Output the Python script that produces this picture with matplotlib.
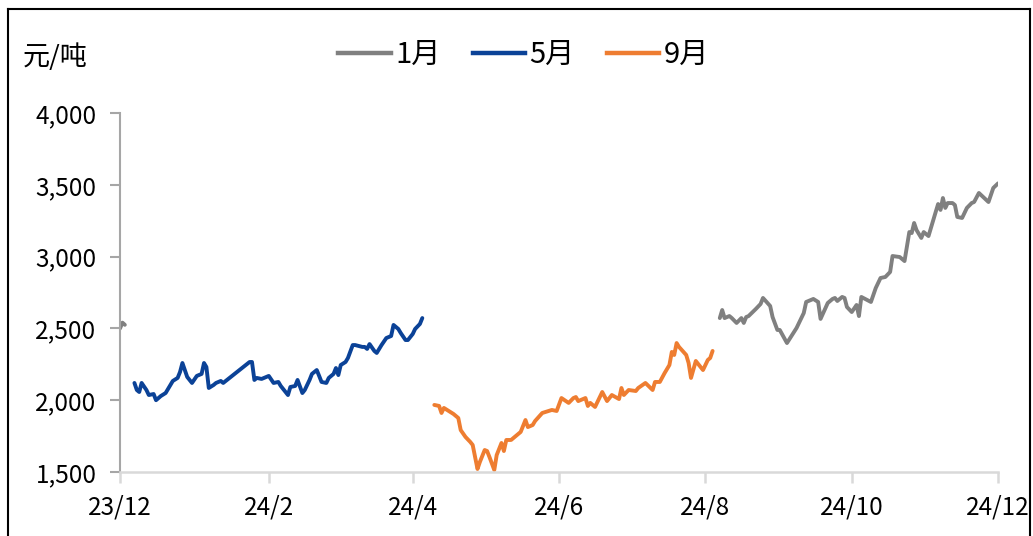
import matplotlib
matplotlib.use("Agg")
import matplotlib.pyplot as plt
import pandas as pd
from matplotlib.lines import Line2D

plt.rcParams['font.family'] = ['Noto Sans CJK SC', 'DejaVu Sans']

# ---- data ----
jan_dates = ["2023-12-01", "2023-12-02", "2023-12-03",
             "2024-08-07", "2024-08-08", "2024-08-09", "2024-08-11", "2024-08-12", "2024-08-14",
             "2024-08-16", "2024-08-17", "2024-08-18", "2024-08-19", "2024-08-22", "2024-08-24",
             "2024-08-25", "2024-08-28", "2024-08-29", "2024-08-31", "2024-09-01", "2024-09-04",
             "2024-09-08", "2024-09-11", "2024-09-12", "2024-09-15", "2024-09-17", "2024-09-18",
             "2024-09-21", "2024-09-23", "2024-09-24", "2024-09-25", "2024-09-27", "2024-09-28",
             "2024-09-29", "2024-10-01", "2024-10-03", "2024-10-04", "2024-10-05", "2024-10-09",
             "2024-10-11", "2024-10-13", "2024-10-15", "2024-10-17", "2024-10-18", "2024-10-21",
             "2024-10-23", "2024-10-25", "2024-10-26", "2024-10-27", "2024-10-28", "2024-10-30",
             "2024-10-31", "2024-11-02", "2024-11-05", "2024-11-06", "2024-11-07", "2024-11-08",
             "2024-11-09", "2024-11-10", "2024-11-12", "2024-11-13", "2024-11-14", "2024-11-16",
             "2024-11-18", "2024-11-20", "2024-11-21", "2024-11-23", "2024-11-27", "2024-11-29",
             "2024-12-01"]
jan_values = [2500, 2540, 2525,
              2572, 2628, 2572, 2586, 2572, 2538,
              2572, 2538, 2579, 2586, 2635, 2670,
              2712, 2656, 2579, 2489, 2489, 2398,
              2503, 2607, 2684, 2705, 2684, 2566,
              2677, 2705, 2712, 2691, 2719, 2712,
              2649, 2614, 2663, 2586, 2719, 2684,
              2781, 2851, 2858, 2893, 3004, 2997,
              2969, 3171, 3164, 3234, 3185, 3130,
              3171, 3143, 3311, 3366, 3325, 3408,
              3339, 3373, 3373, 3359, 3276, 3269,
              3339, 3373, 3380, 3443, 3380, 3478,
              3510]
jan_gap_after = "2023-12-03"

may_dates = ["2023-12-07", "2023-12-08", "2023-12-09", "2023-12-10", "2023-12-12", "2023-12-13",
             "2023-12-15", "2023-12-16", "2023-12-18", "2023-12-20", "2023-12-22", "2023-12-23",
             "2023-12-25", "2023-12-26", "2023-12-27", "2023-12-29", "2023-12-30", "2023-12-31",
             "2024-01-02", "2024-01-04", "2024-01-05", "2024-01-06", "2024-01-07", "2024-01-09",
             "2024-01-10", "2024-01-12", "2024-01-13", "2024-01-24", "2024-01-25", "2024-01-26",
             "2024-01-27", "2024-01-29", "2024-02-01", "2024-02-03", "2024-02-05", "2024-02-06",
             "2024-02-09", "2024-02-10", "2024-02-12", "2024-02-13", "2024-02-15", "2024-02-16",
             "2024-02-18", "2024-02-19", "2024-02-21", "2024-02-22", "2024-02-23", "2024-02-25",
             "2024-02-26", "2024-02-28", "2024-02-29", "2024-03-01", "2024-03-02", "2024-03-04",
             "2024-03-05", "2024-03-07", "2024-03-08", "2024-03-11", "2024-03-12", "2024-03-13",
             "2024-03-14", "2024-03-16", "2024-03-17", "2024-03-19", "2024-03-21", "2024-03-23",
             "2024-03-24", "2024-03-26", "2024-03-27", "2024-03-29", "2024-03-30", "2024-04-01",
             "2024-04-02", "2024-04-04", "2024-04-05"]
may_values = [2120, 2071, 2057, 2120, 2071, 2036,
              2043, 2000, 2029, 2050, 2106, 2134,
              2155, 2196, 2259, 2162, 2141, 2120,
              2169, 2183, 2259, 2231, 2085, 2106,
              2120, 2134, 2120, 2266, 2266, 2141,
              2155, 2148, 2169, 2120, 2127, 2099,
              2036, 2092, 2099, 2141, 2050, 2071,
              2141, 2183, 2210, 2169, 2127, 2120,
              2155, 2183, 2224, 2175, 2245, 2266,
              2294, 2384, 2384, 2371, 2371, 2357,
              2391, 2343, 2329, 2384, 2433, 2447,
              2524, 2496, 2468, 2419, 2419, 2461,
              2496, 2531, 2572]

sep_dates = ["2024-04-10", "2024-04-12", "2024-04-13", "2024-04-14", "2024-04-16", "2024-04-18",
             "2024-04-20", "2024-04-21", "2024-04-23", "2024-04-25", "2024-04-26", "2024-04-28",
             "2024-04-29", "2024-05-01", "2024-05-02", "2024-05-03", "2024-05-05", "2024-05-06",
             "2024-05-08", "2024-05-09", "2024-05-10", "2024-05-12", "2024-05-14", "2024-05-16",
             "2024-05-18", "2024-05-19", "2024-05-21", "2024-05-22", "2024-05-25", "2024-05-29",
             "2024-05-31", "2024-06-02", "2024-06-05", "2024-06-07", "2024-06-08", "2024-06-09",
             "2024-06-12", "2024-06-13", "2024-06-14", "2024-06-16", "2024-06-19", "2024-06-21",
             "2024-06-23", "2024-06-26", "2024-06-27", "2024-06-28", "2024-06-30", "2024-07-03",
             "2024-07-04", "2024-07-07", "2024-07-10", "2024-07-11", "2024-07-13", "2024-07-15",
             "2024-07-17", "2024-07-18", "2024-07-19", "2024-07-20", "2024-07-21", "2024-07-24",
             "2024-07-25", "2024-07-26", "2024-07-28", "2024-07-31", "2024-08-02", "2024-08-03",
             "2024-08-04"]
sep_values = [1967, 1960, 1911, 1946, 1925, 1904,
              1876, 1792, 1744, 1709, 1688, 1521,
              1570, 1653, 1646, 1604, 1514, 1618,
              1702, 1646, 1723, 1723, 1751, 1779,
              1862, 1813, 1827, 1855, 1911, 1932,
              1925, 2015, 1981, 2015, 2022, 1994,
              2015, 1960, 1981, 1953, 2057, 1994,
              2036, 2008, 2085, 2036, 2071, 2064,
              2085, 2120, 2071, 2127, 2127, 2189,
              2245, 2336, 2315, 2398, 2371, 2315,
              2259, 2155, 2273, 2210, 2280, 2294,
              2343]

series_labels = ["1月", "5月", "9月"]
series_colors = ["#808080", "#0B4297", "#EE7D31"]
y_ticks = [1500, 2000, 2500, 3000, 3500, 4000]
x_ticks = ["2023-12-01", "2024-02-01", "2024-04-01", "2024-06-01",
           "2024-08-01", "2024-10-01", "2024-12-01"]
x_tick_labels = ["23/12", "24/2", "24/4", "24/6", "24/8", "24/10", "24/12"]
y_unit = "元/吨"

# ---- figure ----
fig = plt.figure(figsize=(10.33, 5.36), dpi=100)
ax = fig.add_axes([0.1162, 0.1194, 0.8500, 0.6698])

jd = pd.to_datetime(jan_dates)
js = pd.Series(jan_values, index=jd)
gap = pd.Timestamp(jan_gap_after)
lw = 2.8
style = dict(lw=lw, solid_joinstyle='round', solid_capstyle='round')
ax.plot(js[js.index <= gap].index, js[js.index <= gap].values, color=series_colors[0], **style)
ax.plot(js[js.index > gap].index, js[js.index > gap].values, color=series_colors[0], **style)
ax.plot(pd.to_datetime(may_dates), may_values, color=series_colors[1], **style)
ax.plot(pd.to_datetime(sep_dates), sep_values, color=series_colors[2], **style)

ax.set_xlim(pd.Timestamp("2023-12-01"), pd.Timestamp("2024-12-01"))
ax.set_ylim(1500, 4000)
ax.set_yticks(y_ticks)
ax.set_yticklabels([f"{v:,}" for v in y_ticks])
ax.set_xticks(pd.to_datetime(x_ticks))
ax.set_xticklabels(x_tick_labels)

for s in ["top", "right"]:
    ax.spines[s].set_visible(False)
ax.spines["left"].set_color("#A6A6A6")
ax.spines["left"].set_linewidth(1.5)
ax.spines["bottom"].set_color("#D9D9D9")
ax.spines["bottom"].set_linewidth(1.8)
ax.tick_params(axis="y", direction="out", length=7, width=1.5, color="#A6A6A6",
               labelsize=17.5, pad=10)
ax.tick_params(axis="x", direction="out", length=8, width=1.8, color="#D9D9D9",
               labelsize=17.5, pad=8)

fig.text(0.022, 0.893, y_unit, fontsize=19.5, va="center", ha="left")

handles = [Line2D([0], [0], color=c, lw=3.2) for c in series_colors]
fig.legend(handles, series_labels, loc="center", bbox_to_anchor=(0.507, 0.897),
           ncol=3, frameon=False, fontsize=21, handlelength=1.8, handletextpad=0.15,
           columnspacing=1.1)

# outer frame
for xs, ys in [([0.008, 0.008], [0.0, 0.983]), ([0.008, 0.997], [0.983, 0.983]),
               ([0.997, 0.997], [0.0, 0.983])]:
    fig.add_artist(Line2D(xs, ys, color="black", lw=1.5, transform=fig.transFigure))

fig.savefig("out.png", dpi=100)
